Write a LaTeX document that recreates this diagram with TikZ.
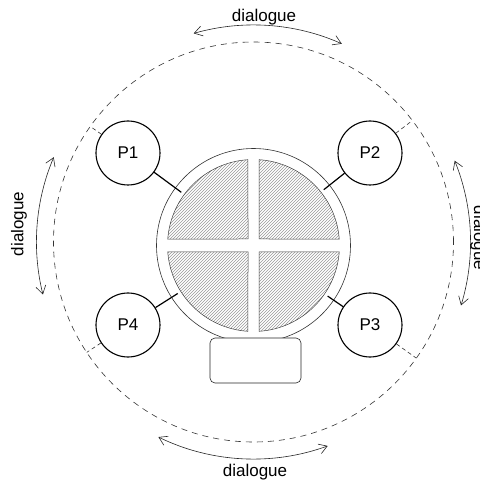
\documentclass[tikz,border=0pt]{standalone}
\usepackage{fontspec}
\setmainfont{Liberation Sans}
\usetikzlibrary{patterns,arrows.meta}

\begin{document}
\begin{tikzpicture}[x=1pt,y=1pt,
        person/.style={circle,draw,line width=1.1pt,minimum size=64pt,inner sep=0pt,font=\fontsize{17}{20}\selectfont},
        link/.style={line width=1.2pt},
        quarter/.style={draw=black!75,line width=0.5pt,pattern=north east lines,pattern color=black!40},
        ring/.style={dash pattern=on 6pt off 5pt,line width=0.6pt,black!80},
        talk/.style={<->,>={Straight Barb[length=8pt,width=10pt]},line width=0.6pt,black!85},
        word/.style={font=\fontsize{17}{20}\selectfont}
    ]
        \useasboundingbox (-253.5,-238.5) rectangle (225.5,245.5);
        \coordinate (mid) at (0,3.5);

        % Define the table and its four quarters
        \node[circle,draw=black!80,line width=0.6pt,minimum size=194pt,inner sep=0pt] (table) at (0,0) {};
        \node[circle,minimum size=179pt,inner sep=0pt] (disc) at (0,0) {};
        \filldraw[quarter] (5.5,6.5) -- (86.33:86) arc[start angle=86.33,end angle=4.33,radius=86] -- cycle;
        \filldraw[quarter] (-5.5,6.5) -- (93.67:86) arc[start angle=93.67,end angle=175.67,radius=86] -- cycle;
        \filldraw[quarter] (-5.5,-6.5) -- (184.33:86) arc[start angle=184.33,end angle=266.33,radius=86] -- cycle;
        \filldraw[quarter] (5.5,-6.5) -- (273.67:86) arc[start angle=273.67,end angle=355.67,radius=86] -- cycle;
        \node[draw=black!85,line width=0.6pt,fill=white,rounded corners=5pt,minimum width=91pt,minimum height=45pt] (tray) at (2,-115) {};

        % Define the people
        \node[person] (P1) at (-125.5,92.5) {P1};
        \node[person] (P2) at (116.5,92.5) {P2};
        \node[person] (P3) at (116.5,-79.5) {P3};
        \node[person] (P4) at (-125.5,-79.5) {P4};

        % Draw the links to the table
        \draw [link] (P1) -- (disc);
        \draw [link] (P2) -- (disc);
        \draw [link] (P3) -- (disc);
        \draw [link] (P4) -- (disc);

        % the dashed ring and the ticks out to it
        \draw [ring] (mid) circle (200);
        \coordinate (t1) at ([shift={(mid)}]144.7:200);
        \coordinate (t2) at ([shift={(mid)}]37.4:200);
        \coordinate (t3) at ([shift={(mid)}]-35.5:200);
        \coordinate (t4) at ([shift={(mid)}]213.5:200);
        \draw [ring,dash pattern=on 4pt off 3pt] (P1) -- (t1);
        \draw [ring,dash pattern=on 4pt off 3pt] (P2) -- (t2);
        \draw [ring,dash pattern=on 4pt off 3pt] (P3) -- (t3);
        \draw [ring,dash pattern=on 4pt off 3pt] (P4) -- (t4);

        % Draw the dialogue arrows
        \draw [talk] ([shift={(mid)}]106:217) arc[start angle=106,end angle=66,radius=217];
        \draw [talk] ([shift={(mid)}]22:217) arc[start angle=22,end angle=-17,radius=217];
        \draw [talk] ([shift={(mid)}]244:217) arc[start angle=244,end angle=290,radius=217];
        \draw [talk] ([shift={(mid)}]157:217) arc[start angle=157,end angle=194,radius=217];
        \node[word] (d1) at (10.5,228.5) {dialogue};
        \node[word,rotate=-90] (d2) at (225,7.5) {dialogue};
        \node[word] (d3) at (1.5,-226.5) {dialogue};
        \node[word,rotate=90] (d4) at (-234.5,21.5) {dialogue};
    \end{tikzpicture}
\end{document}
